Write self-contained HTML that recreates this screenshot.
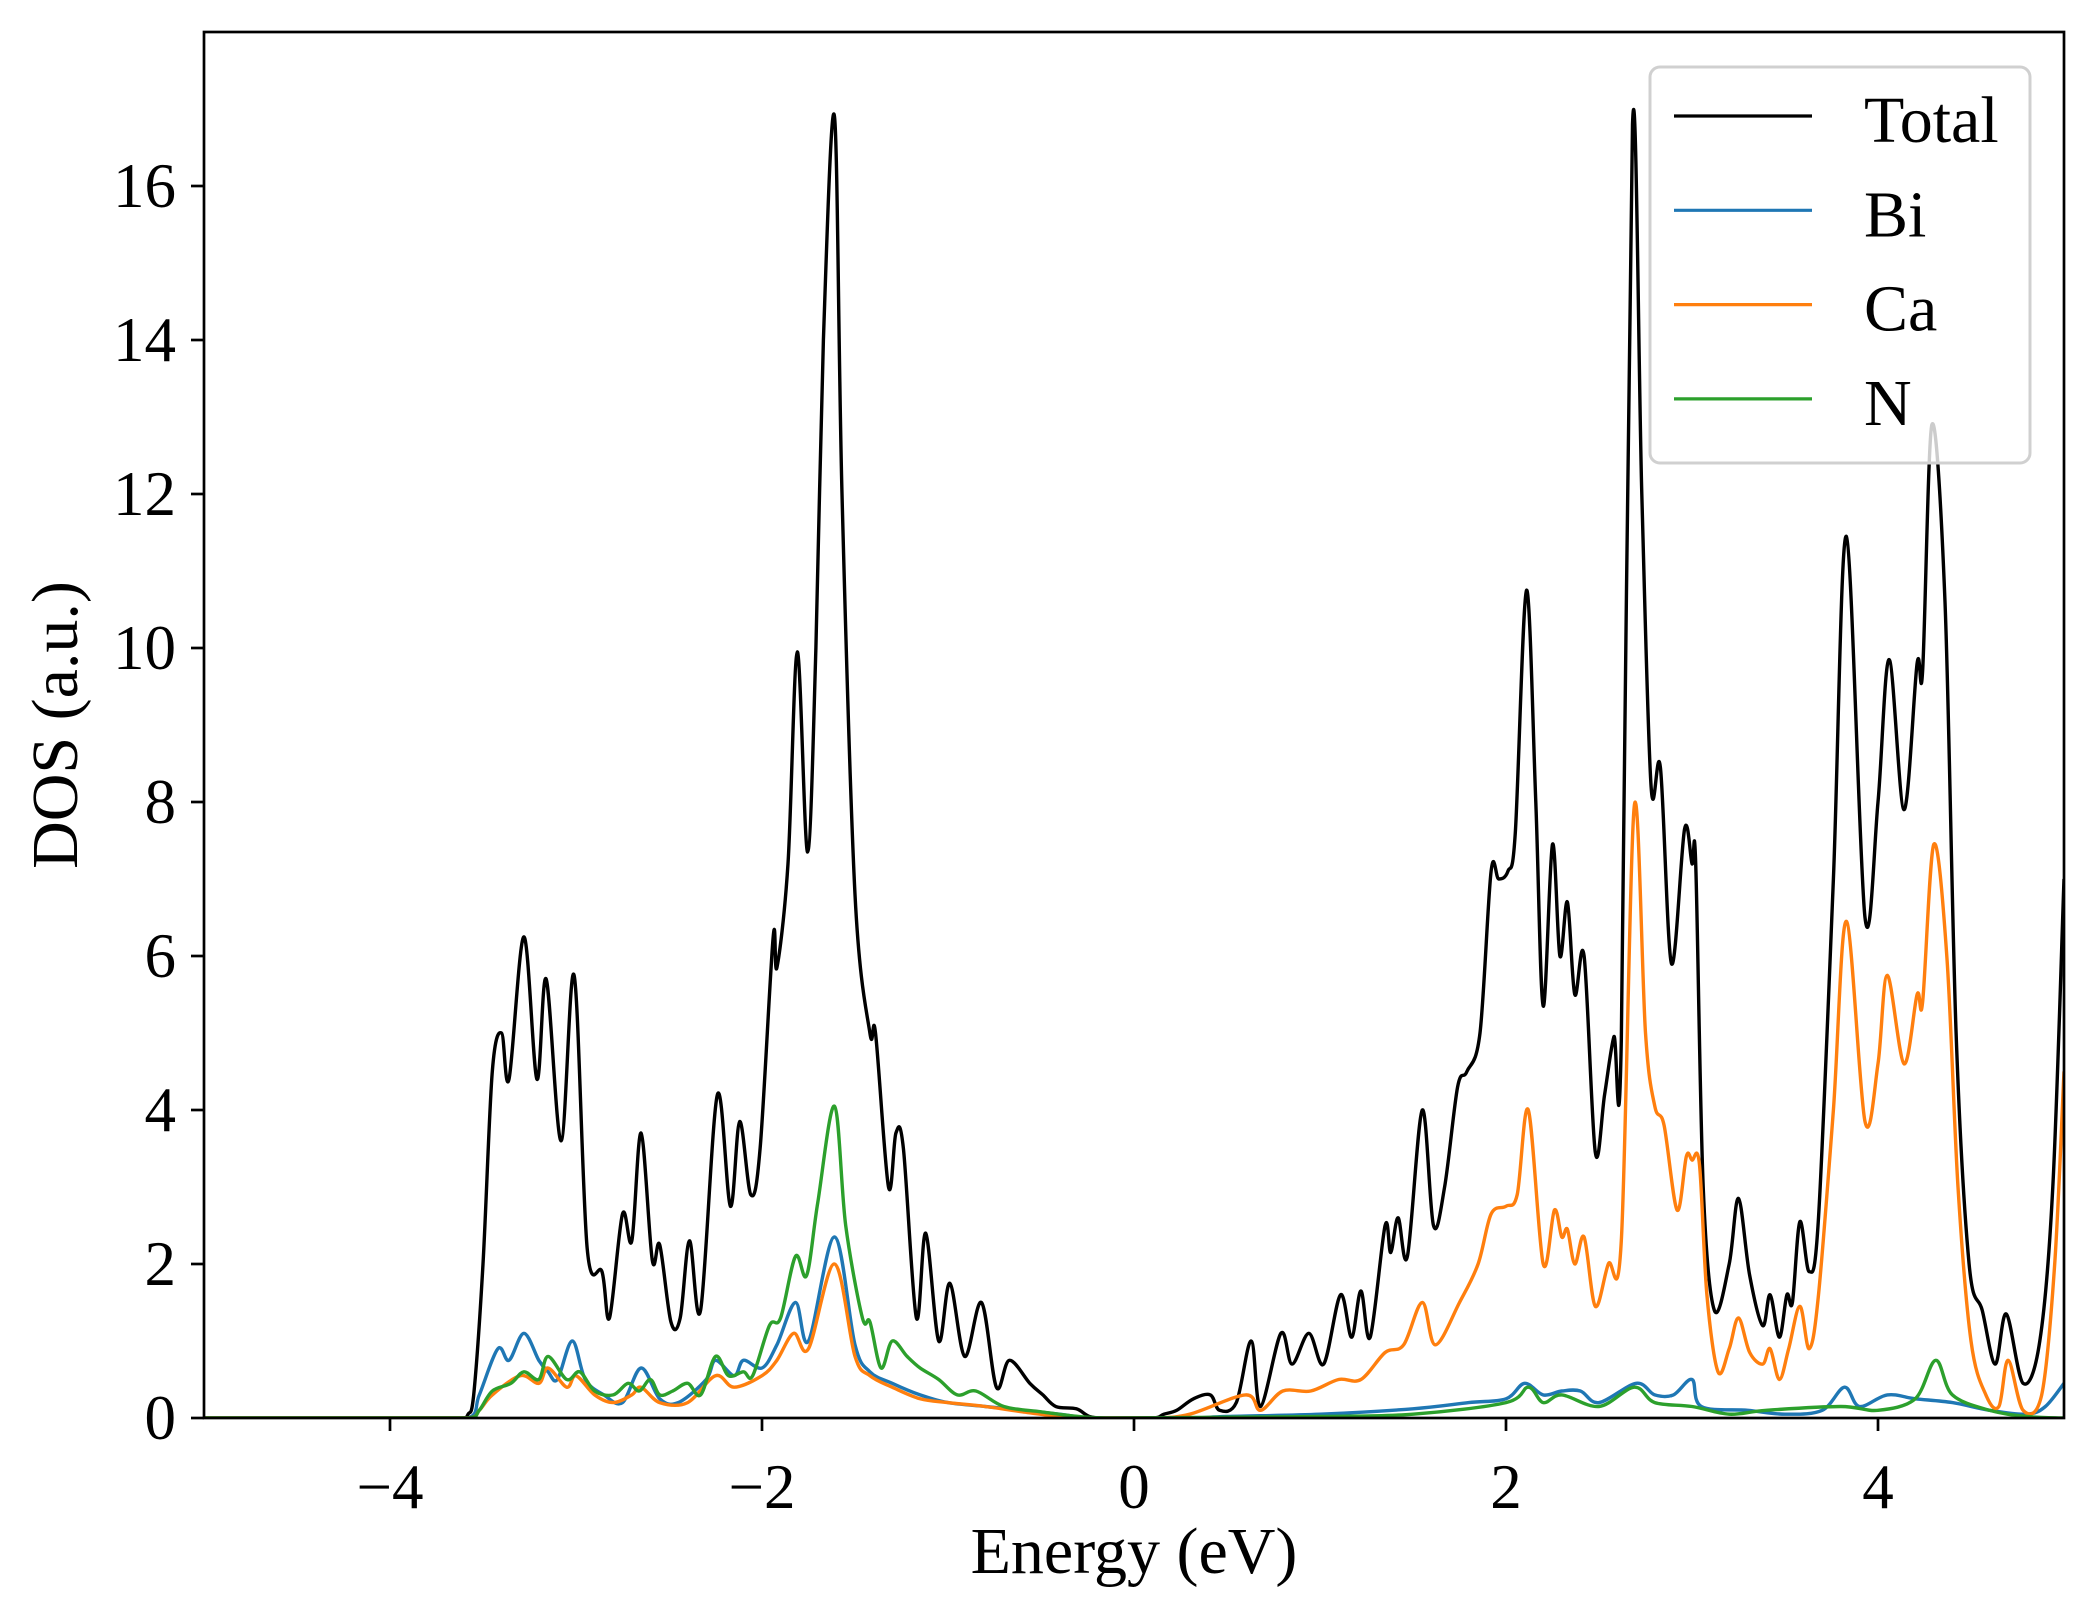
<!DOCTYPE html>
<html><head><meta charset="utf-8"><style>
html,body{margin:0;padding:0;background:#fff;}
svg{display:block;font-family:"Liberation Serif","DejaVu Serif",serif;}
</style></head><body>
<svg id="chart" width="2097" height="1617" viewBox="0 0 2097 1617" xmlns="http://www.w3.org/2000/svg">
<rect width="2097" height="1617" fill="#fff"/>
<g id="plot"></g>
<g id="axes"></g>
<g id="legend"></g>
</svg>
<script>
const xTicks = [-4, -2, 0, 2, 4];
const xTickLabels = ["\u22124", "\u22122", "0", "2", "4"];
const yTicks = [0, 2, 4, 6, 8, 10, 12, 14, 16];
const yTickLabels = ["0", "2", "4", "6", "8", "10", "12", "14", "16"];
const seriesNames = ["Total", "Bi", "Ca", "N"];
const seriesColors = ["#000000", "#1f77b4", "#ff7f0e", "#2ca02c"];

const totalE = [-5,-3.62,-3.58,-3.55,-3.5,-3.45,-3.40,-3.36,-3.28,-3.21,-3.16,-3.08,-3.01,-2.94,-2.86,-2.82,-2.75,-2.70,-2.65,-2.59,-2.55,-2.49,-2.44,-2.39,-2.33,-2.24,-2.17,-2.12,-2.06,-2.01,-1.94,-1.92,-1.86,-1.81,-1.755,-1.71,-1.67,-1.61,-1.57,-1.50,-1.42,-1.39,-1.32,-1.28,-1.24,-1.17,-1.12,-1.05,-0.99,-0.91,-0.82,-0.74,-0.67,-0.56,-0.49,-0.42,-0.31,-0.24,-0.15,0.1,0.16,0.23,0.32,0.41,0.46,0.55,0.63,0.68,0.79,0.85,0.94,1.02,1.11,1.17,1.22,1.27,1.35,1.38,1.42,1.47,1.55,1.61,1.67,1.74,1.79,1.86,1.92,1.96,2.01,2.05,2.11,2.16,2.20,2.25,2.29,2.33,2.37,2.42,2.48,2.53,2.58,2.62,2.68,2.73,2.78,2.83,2.89,2.96,3.00,3.02,3.06,3.12,3.20,3.25,3.31,3.38,3.42,3.47,3.51,3.54,3.58,3.63,3.68,3.76,3.83,3.93,4.00,4.06,4.14,4.21,4.24,4.29,4.36,4.42,4.49,4.56,4.63,4.69,4.78,4.87,4.94,5.0];
const totalV = [0,0,0.05,0.3,2,4.5,5.0,4.4,6.25,4.4,5.7,3.6,5.75,2.2,1.9,1.3,2.65,2.3,3.7,2.05,2.25,1.25,1.3,2.3,1.4,4.2,2.75,3.85,2.9,3.5,6.25,5.85,7.2,9.95,7.35,10,14,16.9,12,6.8,5.0,5.0,3.0,3.7,3.5,1.3,2.4,1.0,1.75,0.8,1.5,0.4,0.75,0.45,0.3,0.15,0.12,0.02,0,0,0.05,0.1,0.25,0.3,0.1,0.2,1.0,0.15,1.1,0.7,1.1,0.7,1.6,1.05,1.65,1.05,2.5,2.15,2.6,2.1,4.0,2.5,3.0,4.3,4.5,5.0,7.1,7.0,7.1,7.6,10.75,8.0,5.35,7.45,6.0,6.7,5.5,6.0,3.45,4.2,4.95,4.9,16.8,12,8.2,8.45,5.9,7.65,7.2,7.2,3.0,1.4,2.0,2.85,1.85,1.2,1.6,1.05,1.6,1.5,2.55,1.9,2.6,7.0,11.45,6.5,8.0,9.85,7.9,9.8,9.7,12.9,10.6,5.0,2.0,1.4,0.7,1.35,0.45,1.0,3.0,7.0];

const biE = [-5,-3.58,-3.52,-3.42,-3.36,-3.28,-3.2,-3.15,-3.1,-3.02,-2.95,-2.85,-2.75,-2.65,-2.55,-2.45,-2.3,-2.25,-2.15,-2.1,-2.0,-1.92,-1.82,-1.75,-1.61,-1.5,-1.42,-1.3,-1.15,-1.0,-0.8,-0.6,-0.4,-0.2,0.3,0.5,1.0,1.5,1.8,2.0,2.1,2.2,2.3,2.4,2.5,2.7,2.8,2.9,3.0,3.05,3.3,3.5,3.7,3.82,3.9,4.05,4.2,4.4,4.6,4.8,4.9,5.0];
const biV = [0,0,0.3,0.9,0.75,1.1,0.75,0.6,0.5,1.0,0.5,0.3,0.2,0.65,0.25,0.2,0.5,0.75,0.55,0.75,0.65,0.95,1.5,1.0,2.35,0.95,0.6,0.45,0.3,0.2,0.15,0.1,0.05,0,0,0.02,0.05,0.12,0.2,0.25,0.45,0.3,0.35,0.35,0.2,0.45,0.3,0.3,0.5,0.15,0.1,0.05,0.1,0.4,0.15,0.3,0.25,0.2,0.1,0.05,0.15,0.45];

const caE = [-5,-3.58,-3.52,-3.45,-3.3,-3.2,-3.15,-3.05,-3.0,-2.9,-2.8,-2.7,-2.65,-2.55,-2.4,-2.25,-2.15,-2.0,-1.92,-1.83,-1.75,-1.61,-1.5,-1.42,-1.3,-1.15,-1.0,-0.8,-0.6,-0.4,-0.2,0.1,0.3,0.6,0.68,0.8,0.95,1.1,1.22,1.35,1.45,1.55,1.62,1.75,1.85,1.92,2.0,2.06,2.12,2.2,2.26,2.3,2.33,2.37,2.42,2.48,2.55,2.62,2.69,2.75,2.8,2.85,2.92,2.97,3.0,3.04,3.08,3.14,3.2,3.25,3.31,3.38,3.42,3.47,3.52,3.58,3.63,3.68,3.76,3.83,3.93,4.0,4.05,4.14,4.21,4.24,4.3,4.37,4.43,4.5,4.58,4.65,4.7,4.78,4.88,4.95,5.0];
const caV = [0,0,0.1,0.3,0.55,0.45,0.65,0.4,0.55,0.3,0.2,0.3,0.4,0.2,0.2,0.55,0.4,0.55,0.75,1.1,0.9,2.0,0.8,0.55,0.4,0.25,0.2,0.15,0.08,0.02,0,0,0.05,0.3,0.1,0.35,0.35,0.5,0.5,0.85,0.95,1.5,0.95,1.5,2.0,2.65,2.75,2.9,4.0,2.0,2.7,2.35,2.45,2.0,2.35,1.45,2.0,2.3,7.95,5.0,4.05,3.8,2.7,3.4,3.35,3.3,1.6,0.6,0.9,1.3,0.85,0.7,0.9,0.5,0.9,1.45,0.9,1.6,4.0,6.45,3.85,4.6,5.75,4.6,5.5,5.4,7.45,6.0,3.0,1.0,0.3,0.15,0.75,0.1,0.3,2.0,4.5];

const nE = [-5,-3.58,-3.52,-3.45,-3.35,-3.28,-3.2,-3.15,-3.05,-2.98,-2.9,-2.8,-2.72,-2.66,-2.6,-2.55,-2.48,-2.4,-2.33,-2.25,-2.18,-2.1,-2.05,-1.96,-1.9,-1.82,-1.76,-1.7,-1.61,-1.55,-1.46,-1.42,-1.36,-1.3,-1.22,-1.15,-1.05,-0.95,-0.85,-0.7,-0.5,-0.3,-0.1,0.5,1.0,1.5,2.0,2.12,2.2,2.3,2.5,2.69,2.8,3.0,3.2,3.4,3.8,4.0,4.2,4.31,4.4,4.6,4.8,5.0];
const nV = [0,0,0.1,0.35,0.45,0.6,0.5,0.8,0.5,0.6,0.35,0.3,0.45,0.35,0.5,0.3,0.35,0.45,0.3,0.8,0.55,0.6,0.55,1.2,1.3,2.1,1.85,2.8,4.05,2.5,1.3,1.25,0.65,1.0,0.8,0.65,0.5,0.3,0.35,0.15,0.08,0.02,0,0.01,0.02,0.05,0.2,0.4,0.2,0.3,0.15,0.4,0.2,0.15,0.05,0.1,0.15,0.1,0.25,0.75,0.3,0.1,0.02,0];

const L = 204, R = 2064, T = 32, B = 1418;
const xMin = -5, xMax = 5, yMin = 0, yMax = 18;
function xs(v){ return L + (v - xMin) / (xMax - xMin) * (R - L); }
function ys(v){ return B - (v - yMin) / (yMax - yMin) * (B - T); }
const NS = "http://www.w3.org/2000/svg";
function mk(tag, attrs, parent){ const e = document.createElementNS(NS, tag); for (const k in attrs) e.setAttribute(k, attrs[k]); parent.appendChild(e); return e; }

function smoothPath(E, V){
  const p = E.map((e,i)=>[xs(e), ys(V[i])]);
  let d = "M" + p[0][0].toFixed(1) + "," + p[0][1].toFixed(1);
  for (let i=0;i<p.length-1;i++){
    const p0 = p[Math.max(0,i-1)], p1 = p[i], p2 = p[i+1], p3 = p[Math.min(p.length-1,i+2)];
    let c1x = p1[0] + (p2[0]-p0[0])/6, c1y = p1[1] + (p2[1]-p0[1])/6;
    let c2x = p2[0] - (p3[0]-p1[0])/6, c2y = p2[1] - (p3[1]-p1[1])/6;
    c1x = Math.max(p1[0], Math.min(c1x, p2[0]));
    c2x = Math.max(p1[0], Math.min(c2x, p2[0]));
    c1y = Math.min(c1y, B); c2y = Math.min(c2y, B);
    d += " C" + c1x.toFixed(1) + "," + c1y.toFixed(1) + " " + c2x.toFixed(1) + "," + c2y.toFixed(1) + " " + p2[0].toFixed(1) + "," + p2[1].toFixed(1);
  }
  return d;
}

const plot = document.getElementById("plot");
const clip = mk("clipPath", {id:"clip"}, plot);
mk("rect", {x:L, y:T, width:R-L, height:B-T}, clip);
const seriesE = [totalE, biE, caE, nE];
const seriesV = [totalV, biV, caV, nV];
[0,1,2,3].forEach(i=>{
  const path = mk("path", {d: smoothPath(seriesE[i], seriesV[i]), fill:"none", stroke:seriesColors[i], "stroke-width": 3.4, "stroke-linejoin":"round", "clip-path":"url(#clip)"}, plot);
  
  
});

const axes = document.getElementById("axes");
const frame = mk("rect", {x:L, y:T, width:R-L, height:B-T, fill:"none", stroke:"#000", "stroke-width":2.7}, axes);


xTicks.forEach((v,i)=>{
  const t = mk("line", {x1:xs(v), x2:xs(v), y1:B, y2:B+13, stroke:"#000", "stroke-width":2.7}, axes);
  
  
  const lb = mk("text", {x:xs(v), y:1508, "font-size":63, "text-anchor":"middle", fill:"#000"}, axes);
  lb.textContent = xTickLabels[i];
  
  
});
yTicks.forEach((v,i)=>{
  const t = mk("line", {x1:L-13, x2:L, y1:ys(v), y2:ys(v), stroke:"#000", "stroke-width":2.7}, axes);
  
  
  const lb = mk("text", {x:176, y:ys(v)+21, "font-size":63, "text-anchor":"end", fill:"#000"}, axes);
  lb.textContent = yTickLabels[i];
  
  
});
const xl = mk("text", {x:(L+R)/2, y:1573, "font-size":66, "text-anchor":"middle", fill:"#000"}, axes);
xl.textContent = "Energy (eV)";


const yl = mk("text", {x:0, y:0, "font-size":66, "text-anchor":"middle", fill:"#000", transform:"translate(77," + ((T+B)/2) + ") rotate(-90)"}, axes);
yl.textContent = "DOS (a.u.)";



const leg = document.getElementById("legend");
const box = mk("rect", {x:1650, y:67, width:380, height:396, rx:10, fill:"#fff", "fill-opacity":0.8, stroke:"#d0d0d0", "stroke-width":3}, leg);


seriesNames.forEach((n,i)=>{
  const yy = 116 + i*94.3;
  const ln = mk("line", {x1:1674, x2:1812, y1:yy, y2:yy, stroke:seriesColors[i], "stroke-width":3.2}, leg);
  
  
  const tx = mk("text", {x:1864, y:yy+26, "font-size":66, fill:"#000"}, leg);
  tx.textContent = n;
  
  
});
</script>
</body></html>
